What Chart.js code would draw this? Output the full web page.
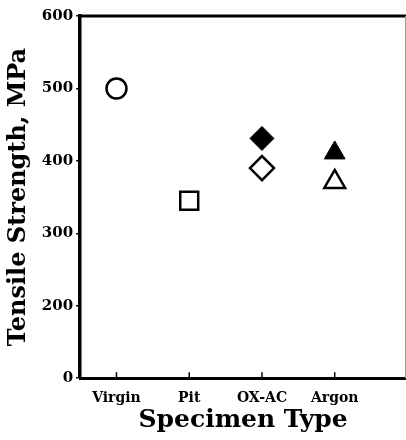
<!DOCTYPE html>
<html>
<head>
<meta charset="utf-8">
<script src="https://cdn.jsdelivr.net/npm/chart.js@4.4.1/dist/chart.umd.min.js"></script>
<style>
body { margin: 0; background: #fff; }
</style>
</head>
<body>
<canvas id="grafico" width="406" height="440"></canvas>
<script>
const categorias = ['Virgin', 'Pit', 'OX-AC', 'Argon'];
const abertos = [500, 345, 390, 371];
const cheios = [null, null, 431, 411];
const estilosAbertos = ['circle', 'rect', 'rectRot', 'triangle'];
const estilosCheios = ['circle', 'rect', 'rectRot', 'triangle'];
const yTicks = [100, 200, 300, 400, 500, 600];
const yLabels = ['0', '200', '300', '400', '500', '600'];

const raios = { circle: 10, rect: 12.7, rectRot: 12, triangle: 12 };
const fonte = 'DejaVu Serif';

function pontos(valores) {
    return valores.map((v, i) => ({ x: i + 1, y: v }));
}

const moldura = {
    id: 'moldura',
    afterDatasetsDraw(chart) {
        const { ctx, chartArea: a, scales: { x } } = chart;
        ctx.save();
        ctx.strokeStyle = '#000';
        ctx.lineWidth = 3;
        ctx.beginPath();
        ctx.moveTo(a.left, a.top);
        ctx.lineTo(a.right, a.top);
        ctx.stroke();
        ctx.strokeStyle = '#999';
        ctx.lineWidth = 1;
        ctx.beginPath();
        ctx.moveTo(a.right - 0.5, a.top);
        ctx.lineTo(a.right - 0.5, a.bottom);
        ctx.stroke();
        ctx.strokeStyle = '#000';
        ctx.lineWidth = 1.5;
        categorias.forEach((c, i) => {
            const px = x.getPixelForValue(i + 1);
            ctx.beginPath();
            ctx.moveTo(px, a.bottom);
            ctx.lineTo(px, a.bottom - 6);
            ctx.stroke();
        });
        ctx.restore();
    }
};

new Chart(document.getElementById('grafico'), {
    type: 'scatter',
    data: {
        datasets: [{
            data: pontos(abertos),
            pointStyle: estilosAbertos,
            pointRadius: estilosAbertos.map(s => raios[s]),
            pointHoverRadius: estilosAbertos.map(s => raios[s]),
            backgroundColor: '#fff',
            borderColor: '#000',
            borderWidth: 2.5
        }, {
            data: pontos(cheios),
            pointStyle: estilosCheios,
            pointRadius: estilosCheios.map(s => raios[s]),
            pointHoverRadius: estilosCheios.map(s => raios[s]),
            backgroundColor: '#000',
            borderColor: '#000',
            borderWidth: 1
        }]
    },
    options: {
        responsive: false,
        animation: false,
        layout: { autoPadding: false, padding: { left: 4, top: 16, right: 0, bottom: 0 } },
        plugins: { legend: { display: false }, tooltip: { enabled: false } },
        scales: {
            x: {
                type: 'linear',
                min: 0.5,
                max: 4.98,
                afterBuildTicks: scale => { scale.ticks = categorias.map((c, i) => ({ value: i + 1 })); },
                grid: { display: false, drawTicks: false },
                border: { display: true, color: '#000', width: 3 },
                ticks: {
                    color: '#000',
                    padding: 12,
                    maxRotation: 0,
                    font: { family: fonte, weight: 'bold', size: 14 },
                    callback: v => categorias[v - 1] || ''
                },
                title: {
                    display: true,
                    text: 'Specimen Type',
                    color: '#000',
                    padding: { top: -14, bottom: 5 },
                    font: { family: fonte, weight: 'bold', size: 25 }
                }
            },
            y: {
                min: 100,
                max: 600,
                afterBuildTicks: scale => { scale.ticks = yTicks.map(v => ({ value: v })); },
                grid: { drawOnChartArea: false, drawTicks: true, tickLength: 4, color: '#000', lineWidth: 1.5 },
                border: { display: true, color: '#000', width: 3.5 },
                ticks: {
                    color: '#000',
                    padding: 3,
                    font: { family: fonte, weight: 'bold', size: 15 },
                    callback: v => yLabels[yTicks.indexOf(v)]
                },
                title: {
                    display: true,
                    text: 'Tensile Strength, MPa',
                    color: '#000',
                    padding: { top: 0, bottom: 6 },
                    font: { family: fonte, weight: 'bold', size: 24 }
                }
            }
        }
    },
    plugins: [moldura]
});
</script>
</body>
</html>
